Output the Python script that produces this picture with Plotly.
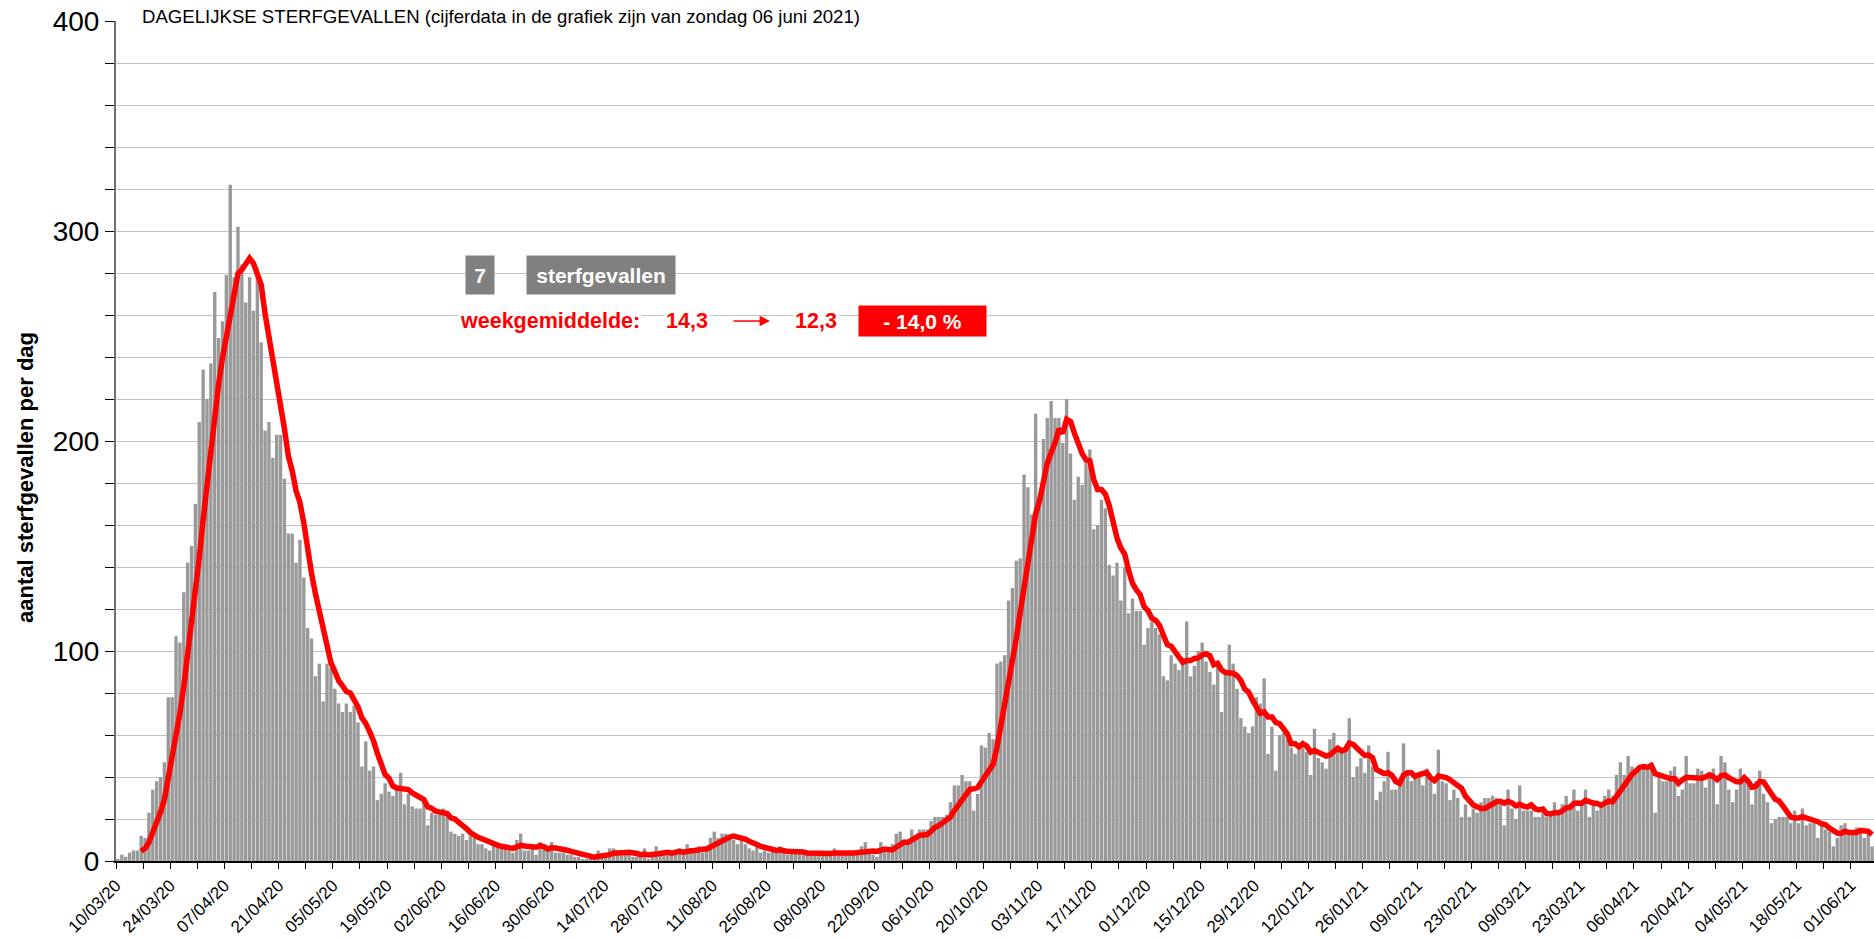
import pandas as pd
import plotly.graph_objects as go

# ---------------- data ----------------
start_date = "2020-03-10"
deaths = [
    # days 0-84 (10/03/20 ...)
    1, 3, 2, 4, 5, 5, 12, 11, 23, 34, 38, 40, 47, 78, 78, 107, 104, 128, 142, 150,
    170, 209, 234, 220, 237, 271, 249, 257, 279, 322, 278, 302, 284, 266, 278, 262,
    282, 247, 205, 209, 192, 203, 203, 182, 156, 156, 142, 153, 135, 111, 106, 88,
    94, 76, 94, 92, 82, 75, 71, 75, 71, 74, 66, 45, 57, 43, 45, 29, 32, 37, 33, 31,
    36, 42, 27, 32, 26, 25, 25, 28, 17, 23, 22, 22, 25,
    # days 85-217
    21, 14, 13, 12, 13, 10, 12, 11, 8, 8, 6, 5, 8, 7, 7, 6, 5, 4, 10, 13, 5, 5, 6, 3,
    9, 7, 5, 9, 4, 4, 4, 3, 3, 2, 2, 1, 1, 2, 2, 5, 3, 2, 6, 6, 4, 4, 3, 4, 2, 2, 2,
    6, 1, 3, 7, 4, 4, 4, 3, 4, 6, 4, 8, 5, 5, 7, 4, 7, 11, 14, 11, 13, 13, 11, 10, 8,
    10, 8, 6, 5, 8, 4, 5, 4, 5, 4, 7, 4, 3, 5, 4, 4, 3, 4, 3, 4, 4, 4, 3, 3, 6, 4, 4,
    4, 3, 3, 4, 7, 9, 4, 3, 2, 9, 6, 5, 8, 13, 14, 8, 8, 15, 12, 15, 15, 15, 19, 21,
    21, 21, 22, 28, 36, 36,
    # days 218-330
    41, 38, 38, 24, 32, 55, 54, 61, 58, 94, 95, 98, 124, 130, 143, 144, 184, 178, 165,
    213, 174, 201, 211, 219, 211, 211, 199, 220, 194, 172, 183, 179, 190, 196, 158, 160,
    172, 168, 141, 136, 142, 124, 140, 118, 125, 119, 119, 103, 111, 114, 111, 108, 88,
    86, 98, 94, 91, 97, 114, 88, 93, 100, 104, 95, 90, 84, 93, 71, 91, 103, 94, 82, 68,
    64, 61, 64, 78, 75, 87, 51, 64, 43, 60, 61, 58, 54, 51, 53, 54, 52, 41, 63, 49, 47,
    44, 58, 61, 54, 54, 54, 68, 40, 45, 49, 42, 55, 45, 29, 33, 38, 52, 34, 34,
    # days 331-453 (... 06/06/21)
    39, 56, 41, 38, 40, 40, 36, 44, 38, 32, 53, 38, 37, 29, 34, 30, 21, 27, 21, 25, 23,
    28, 30, 30, 31, 30, 27, 17, 34, 25, 20, 36, 24, 24, 24, 21, 21, 23, 21, 23, 28, 24,
    27, 31, 25, 34, 24, 27, 34, 21, 28, 24, 28, 31, 34, 31, 41, 47, 41, 50, 45, 44, 44,
    44, 44, 47, 23, 41, 38, 38, 43, 45, 31, 34, 50, 37, 37, 44, 43, 35, 41, 44, 27, 50,
    47, 34, 28, 34, 44, 41, 38, 27, 38, 43, 32, 28, 18, 20, 21, 21, 21, 18, 24, 18, 25,
    17, 18, 18, 11, 17, 15, 14, 7, 11, 17, 18, 13, 13, 16, 14, 11, 14, 7,
]
tick_format = "%d/%m/%y"
title_text = "DAGELIJKSE STERFGEVALLEN (cijferdata in de grafiek zijn van zondag 06 juni 2021)"
y_title = "aantal sterfgevallen per dag"
box_number = "7"
box_label = "sterfgevallen"
avg_label = "weekgemiddelde:"
avg_prev = "14,3"
avg_last = "12,3"
avg_change = "- 14,0 %"

# ---------------- derived ----------------
n = len(deaths)
day_centers = pd.date_range(start_date + " 12:00", periods=n, freq="D")
avg7 = pd.Series(deaths, dtype=float).rolling(7).mean()
x_start = pd.Timestamp(start_date)
x_end = x_start + pd.Timedelta(days=n)

W, H = 1874, 941
L, R, T, B = 116, 0, 21, 80
pw, ph = W - L - R, H - T - B


def px(xp):
    return (xp - L) / pw


def py(yp):
    return (H - B - yp) / ph


FONT = "Liberation Sans, Arial, sans-serif"

fig = go.Figure()
fig.add_trace(go.Bar(x=day_centers, y=deaths, marker=dict(color="#999999", line=dict(width=0)),
                     hoverinfo="x+y"))
fig.add_trace(go.Scatter(x=day_centers, y=avg7, mode="lines",
                         line=dict(color="#ff0000", width=5.5), hoverinfo="skip"))

fig.update_layout(
    width=W, height=H, margin=dict(l=L, r=R, t=T, b=B, pad=0),
    paper_bgcolor="white", plot_bgcolor="white", showlegend=False, bargap=0.13,
    font=dict(family=FONT, color="black"),
)
fig.update_yaxes(
    range=[0, 400], dtick=100, tick0=0, showgrid=True, gridcolor="#c4c4c4", gridwidth=1,
    showline=True, linecolor="#707070", linewidth=2,
    ticks="outside", ticklen=9, tickcolor="black", tickwidth=1,
    tickfont=dict(family=FONT, size=28, color="black"),
    minor=dict(dtick=20, showgrid=True, gridcolor="#c4c4c4", gridwidth=1,
               ticks="outside", ticklen=9, tickcolor="black"),
    zeroline=False, fixedrange=True,
)
fig.update_xaxes(
    type="date", range=[x_start, x_end], tick0=x_start, dtick=14 * 86400000,
    tickformat=tick_format, tickangle=-45,
    tickfont=dict(family=FONT, size=17, color="black"),
    showline=True, linecolor="black", linewidth=2,
    ticks="outside", ticklen=6, tickcolor="black",
    minor=dict(dtick=7 * 86400000, tick0=x_start, ticks="outside", ticklen=6, tickcolor="black"),
    showgrid=False, zeroline=False, fixedrange=True,
)

ann = []
ann.append(dict(text=title_text, xref="paper", yref="paper", x=px(140), y=py(16.5),
                xanchor="left", yanchor="middle", showarrow=False, bgcolor="white",
                font=dict(family=FONT, size=18.6, color="black"), borderpad=1))
ann.append(dict(text="<b>%s</b>" % y_title, xref="paper", yref="paper", x=px(25), y=py(478),
                textangle=-90, xanchor="center", yanchor="middle", showarrow=False,
                font=dict(family=FONT, size=22, color="black")))
ann.append(dict(text="<b>%s</b>" % box_number, xref="paper", yref="paper", x=px(480), y=py(275),
                xanchor="center", yanchor="middle", showarrow=False, bgcolor="#808080",
                width=28, height=38, borderpad=0, align="center", valign="middle",
                font=dict(family=FONT, size=21, color="white")))
ann.append(dict(text="<b>%s</b>" % box_label, xref="paper", yref="paper", x=px(601), y=py(275),
                xanchor="center", yanchor="middle", showarrow=False, bgcolor="#808080",
                width=148, height=38, borderpad=0, align="center", valign="middle",
                font=dict(family=FONT, size=21, color="white")))
ann.append(dict(text="<b>%s</b>" % avg_label, xref="paper", yref="paper", x=px(458), y=py(321),
                xanchor="left", yanchor="middle", showarrow=False, bgcolor="white",
                font=dict(family=FONT, size=21.5, color="#ff0000")))
ann.append(dict(text="<b>%s</b>" % avg_prev, xref="paper", yref="paper", x=px(664), y=py(321),
                xanchor="left", yanchor="middle", showarrow=False, bgcolor="white",
                font=dict(family=FONT, size=21.5, color="#ff0000")))
ann.append(dict(text="", xref="paper", yref="paper", x=px(770), y=py(321),
                ax=-38, ay=0, axref="pixel", ayref="pixel", showarrow=True,
                arrowhead=2, arrowsize=1.3, arrowwidth=1.6, arrowcolor="#ff0000"))
ann.append(dict(text="<b>%s</b>" % avg_last, xref="paper", yref="paper", x=px(793), y=py(321),
                xanchor="left", yanchor="middle", showarrow=False, bgcolor="white",
                font=dict(family=FONT, size=21.5, color="#ff0000")))
ann.append(dict(text="<b>%s</b>" % avg_change, xref="paper", yref="paper", x=px(922), y=py(321),
                xanchor="center", yanchor="middle", showarrow=False, bgcolor="#ff0000",
                width=127, height=30, borderpad=0, align="center", valign="middle",
                font=dict(family=FONT, size=21, color="white")))
fig.update_layout(annotations=ann)

fig.write_html("out.html", config={"displayModeBar": False},
               post_script="document.body.style.margin='0';document.body.style.overflow='hidden';")
